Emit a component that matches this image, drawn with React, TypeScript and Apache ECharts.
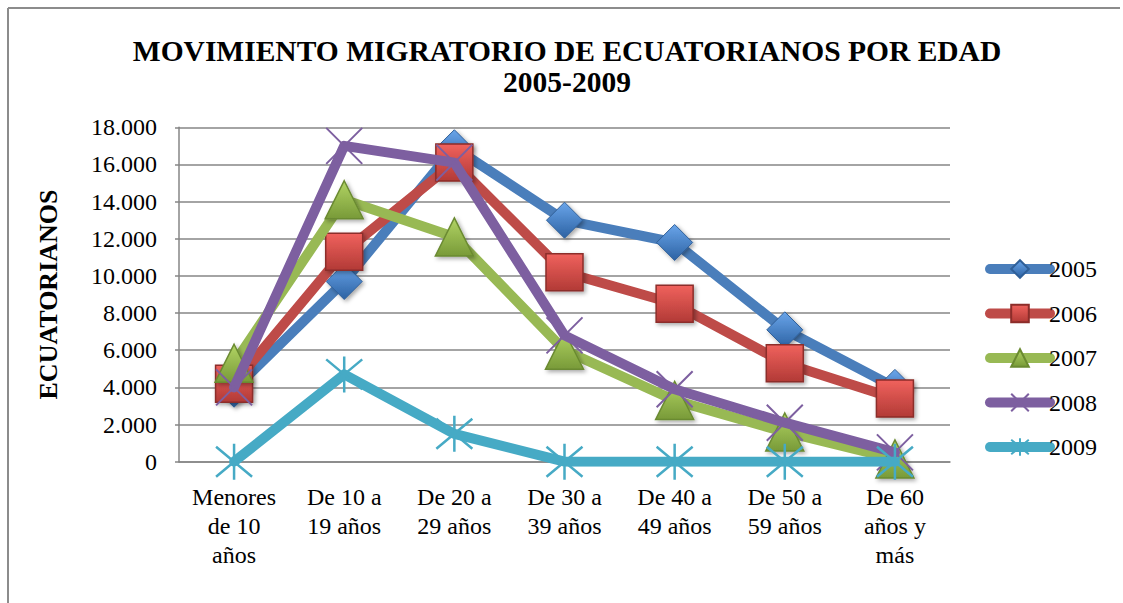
import React, { useEffect, useRef } from "react";
import * as echarts from "echarts";

const categories = [
  "Menores\nde 10\naños",
  "De 10 a\n19 años",
  "De 20 a\n29 años",
  "De 30 a\n39 años",
  "De 40 a\n49 años",
  "De 50 a\n59 años",
  "De 60\naños y\nmás",
];
const years = ["2005", "2006", "2007", "2008", "2009"];
const s2005 = [3900, 9700, 16900, 13000, 11800, 7100, 4000];
const s2006 = [4200, 11300, 16100, 10200, 8500, 5300, 3400];
const s2007 = [5300, 14100, 12100, 6000, 3300, 1600, 150];
const s2008 = [4000, 17000, 16100, 6800, 3900, 2100, 500];
const s2009 = [0, 4700, 1500, 0, 0, 0, 0];

const FONT = "Liberation Serif";

function grad(top: string, bottom: string) {
  return new echarts.graphic.LinearGradient(0, 0, 0, 1, [
    { offset: 0, color: top },
    { offset: 1, color: bottom },
  ]);
}

export default function App() {
  const ref = useRef<HTMLDivElement>(null);
  useEffect(() => {
    if (!ref.current) return;
    const chart = echarts.init(ref.current, undefined, { renderer: "svg" });
    const shadow = {
      shadowBlur: 4,
      shadowColor: "rgba(0,0,0,0.35)",
      shadowOffsetX: 2,
      shadowOffsetY: 2,
    };
    const lineCommon = (color: string) => ({
      width: 10,
      color,
      cap: "round" as const,
      join: "round" as const,
    });
    const datas = [s2005, s2006, s2007, s2008, s2009];
    const colors = ["#4a7ebb", "#be4b48", "#98b954", "#7d5fa0", "#46aac5"];
    const symbols = [
      "diamond",
      "rect",
      "triangle",
      "path://M0 0L10 10M10 0L0 10",
      "path://M0 0L10 10M10 0L0 10M5 -1L5 11",
    ];
    const sizes: any[] = [[36, 36], [37, 37], [38, 38], [36, 36], [36, 36]];
    const itemStyles: any[] = [
      { color: grad("#6aa5ea", "#2c62a3"), borderColor: "#2f5f98", borderWidth: 1, ...shadow },
      { color: grad("#f0625d", "#b23a36"), borderColor: "#8c2d2a", borderWidth: 1.5, ...shadow },
      { color: grad("#b2d464", "#789a38"), borderColor: "#6a8a30", borderWidth: 1.5, ...shadow },
      { color: "none", borderColor: "#7d5fa0", borderWidth: 2 },
      { color: "none", borderColor: "#46aac5", borderWidth: 2.5 },
    ];
    const series = years.map((y, i) => ({
      name: y,
      type: "line",
      data: datas[i],
      symbol: symbols[i],
      symbolSize: sizes[i],
      lineStyle: lineCommon(colors[i]),
      itemStyle: itemStyles[i],
      z: 2 + i,
    }));

    chart.setOption({
      animation: false,
      backgroundColor: "#ffffff",
      title: {
        text: "MOVIMIENTO MIGRATORIO DE ECUATORIANOS POR EDAD\n2005-2009",
        left: 562,
        textAlign: "center",
        top: 30,
        textStyle: {
          fontFamily: FONT,
          fontWeight: "bold",
          fontSize: 29.5,
          lineHeight: 31,
          color: "#000",
        },
      },
      legend: {
        orient: "vertical",
        left: 980,
        top: 252,
        itemWidth: 60,
        itemHeight: 22,
        itemGap: 20.5,
        lineStyle: { width: 10, cap: "round" },
        textStyle: { fontFamily: FONT, fontSize: 24, color: "#000", lineHeight: 24, padding: [0, 0, 0, -6] },
        data: years,
      },
      grid: { left: 179, right: 173, top: 127.3, bottom: 141.3, containLabel: false },
      xAxis: {
        type: "category",
        data: categories,
        boundaryGap: true,
        axisLine: { show: true, lineStyle: { color: "#868686", width: 1.5 } },
        axisTick: { show: false },
        axisLabel: {
          interval: 0,
          margin: 21,
          fontFamily: FONT,
          fontSize: 24,
          lineHeight: 29,
          color: "#000",
        },
      },
      yAxis: {
        type: "value",
        min: 0,
        max: 18000,
        interval: 2000,
        name: "ECUATORIANOS",
        nameLocation: "middle",
        nameGap: 118,
        nameTextStyle: { fontFamily: FONT, fontWeight: "bold", fontSize: 26, color: "#000" },
        axisLine: { show: true, lineStyle: { color: "#868686", width: 1.5 } },
        axisTick: { show: true, length: 4, lineStyle: { color: "#868686", width: 1.5 } },
        splitLine: { show: true, lineStyle: { color: "#868686", width: 1.5 } },
        axisLabel: {
          margin: 22,
          fontFamily: FONT,
          fontSize: 24,
          color: "#000",
          formatter: (v: number) => (v === 0 ? "0" : (v / 1000).toFixed(3)),
        },
      },
      graphic: [
        { type: "line", shape: { x1: 8, y1: 8, x2: 1120, y2: 8 }, style: { stroke: "#8c8c8c", lineWidth: 2 } },
        { type: "line", shape: { x1: 8, y1: 8, x2: 8, y2: 603 }, style: { stroke: "#8c8c8c", lineWidth: 2 } },
      ],
      series,
    });
    return () => chart.dispose();
  }, []);
  return (
    <div
      ref={ref}
      style={{ position: "absolute", left: 0, top: 0, width: 1123, height: 603 }}
    />
  );
}
